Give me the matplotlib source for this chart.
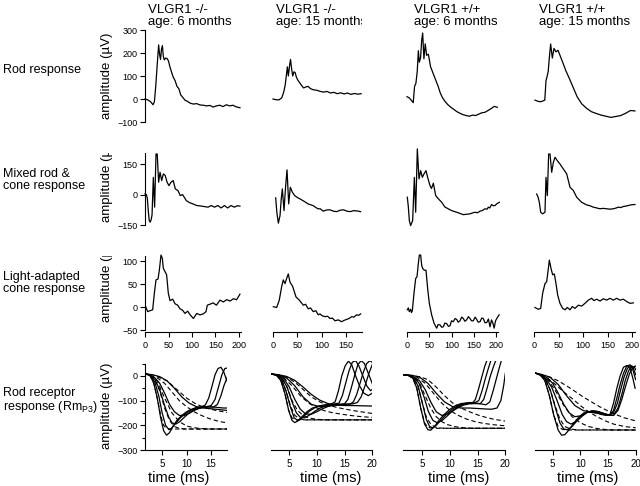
import matplotlib
matplotlib.use("Agg")
import matplotlib.pyplot as plt
from matplotlib.transforms import Bbox, TransformedBbox

plt.rcParams["font.family"] = ["Liberation Sans", "DejaVu Sans"]
plt.rcParams["mathtext.fontset"] = "custom"
plt.rcParams["mathtext.rm"] = "Liberation Sans"
plt.rcParams["axes.linewidth"] = 0.8

# =============================================================================
# DATA  -- x in ms, y in microvolts
# =============================================================================
col_titles = ["VLGR1 -/-\nage: 6 months", "VLGR1 -/-\nage: 15 months",
              "VLGR1 +/+\nage: 6 months", "VLGR1 +/+\nage: 15 months"]
row_labels = ["Rod response", "Mixed rod &\ncone response",
              "Light-adapted\ncone response", "Rod receptor\nresponse (Rm$_{\\mathrm{P3}}$)"]

# --- Row 1: rod response ---
rod_ko6_x = [0, 6, 12, 17, 20, 23, 26, 29, 31, 33, 35, 37, 39, 41, 44, 47, 50, 53, 56, 60, 64, 68, 72, 76,
             80, 85, 90, 96, 103, 110, 117, 124, 131, 138, 145, 152, 159, 166, 173, 180, 187, 194, 202]
rod_ko6_y = [0, -4, -12, -25, -12, 60, 150, 235, 195, 172, 215, 232, 185, 170, 178, 176, 165, 140, 120, 95,
             80, 55, 45, 18, 8, -5, -10, -18, -22, -20, -26, -27, -30, -28, -35, -30, -27, -33, -25, -30,
             -27, -34, -38]
rod_ko15_x = [0, 6, 12, 18, 22, 25, 27, 29.5, 31.5, 34, 36, 38, 40.5, 43, 45.5, 48, 51, 55, 59, 63, 67, 72,
              77, 83, 90, 97, 104, 111, 118, 125, 132, 139, 146, 153, 160, 167, 174, 181]
rod_ko15_y = [0, -3, -4, 5, 30, 60, 95, 140, 100, 145, 172, 135, 100, 118, 115, 95, 82, 70, 58, 48, 52, 55,
              45, 40, 38, 33, 30, 33, 26, 29, 23, 27, 22, 26, 20, 24, 21, 23]
rod_wt6_x = [0, 5, 9, 14, 17, 20, 23, 25.5, 27.7, 30.5, 33, 35.2, 38, 41, 44, 48, 53, 59, 65, 70, 75, 80,
             86, 92, 98, 105, 112, 119, 126, 133, 140, 147, 154, 161, 168, 175, 182, 189, 196, 203]
rod_wt6_y = [10, 5, -4, -16, 55, 68, 120, 210, 160, 180, 255, 287, 175, 240, 190, 195, 140, 110, 80, 55, 25,
             5, -12, -25, -35, -45, -55, -62, -68, -72, -75, -70, -72, -66, -60, -58, -50, -42, -32, -36]
rod_wt15_x = [2, 8, 14, 22, 24.5, 26.5, 29, 31.3, 34, 37.4, 40.8, 44.9, 49, 53, 58.5, 64.6, 72, 80, 88, 97,
              107, 117, 127, 137, 147, 157, 167, 177, 187, 197, 206]
rod_wt15_y = [-5, -10, -12, -5, 80, 96, 120, 180, 239, 178, 220, 205, 212, 190, 160, 125, 90, 50, 10, -20,
              -40, -55, -63, -70, -75, -80, -76, -72, -62, -50, -52]

# --- Row 2: mixed rod & cone response ---
mix_ko6_x = [0, 3, 5, 7, 9, 11, 13, 15, 17.7, 20.5, 23.4, 26, 29, 32, 35.5, 39, 43, 47, 51, 55, 60, 64.5,
             70, 75, 80, 88, 95, 102, 110, 118, 126, 134, 141, 148, 155, 162, 169, 176, 183, 190, 197, 202]
mix_ko6_y = [3, 0, -20, -80, -128, -136, -125, -100, 85, -62, 200, 200, 61, 110, 69, 102, 94, 61, 44, 60,
             69, 28, 20, -5, 0, -30, -40, -46, -54, -56, -59, -62, -54, -62, -54, -66, -54, -66, -54, -62,
             -55, -57]
mix_ko15_x = [5.5, 8, 11, 14.4, 17, 19.2, 22.6, 26, 28.8, 32.2, 35.6, 39.7, 44.5, 51, 56, 61.6, 67, 72, 77,
              82, 87, 92, 97, 103, 110, 117, 124, 131, 138, 145, 152, 159, 166, 173, 180]
mix_ko15_y = [-16, -90, -141, -104, -20, 28, -79, 44, 122, -46, 36, 12, -5, -16, -22, -30, -38, -46, -50,
              -54, -62, -70, -70, -82, -76, -75, -82, -84, -77, -75, -82, -84, -79, -81, -84]
mix_wt6_x = [0.7, 3, 5.2, 8.2, 12.7, 16.5, 19.5, 23.2, 27, 30.7, 34.5, 38.2, 42.7, 46.4, 51.7, 55, 59.2,
             64.5, 70.5, 78, 85.4, 91, 96.6, 104, 111.6, 119, 126.6, 134, 141.6, 148, 152.8, 158, 164, 170,
             175, 180, 182.8, 186, 190, 194, 197.8, 202, 207.5]
mix_wt6_y = [-13, -60, -128, -153, -128, 85, -87, 225, 77, 118, 85, 102, 118, 85, 44, 30, 56, -5, -21,
             -38, -62, -68, -75, -82, -87, -93, -99, -97, -95, -90, -87, -90, -82, -78, -70, -72, -62, -66,
             -49, -55, -54, -45, -38]
mix_wt15_x = [5.4, 8, 10.9, 13.6, 17.7, 22.4, 24.5, 27.2, 29.9, 32.7, 36.1, 39.5, 42.9, 47.6, 53, 59.9,
              66.7, 70, 73.5, 80.3, 87.1, 92, 97.3, 107.5, 114, 121, 128, 134.7, 141, 148.3, 155, 161.9,
              168, 172, 177, 182.3, 187, 192.5, 199, 206]
mix_wt15_y = [3, -10, -38, -87, -95, -87, 85, -5, 200, 200, 110, 159, 184, 167, 151, 126, 102, 70, 36, 20,
              -13, -25, -38, -51, -55, -62, -66, -70, -68, -70, -72, -70, -66, -62, -64, -59, -57, -54,
              -50, -49]

# --- Row 3: light-adapted cone response ---
cone_ko6_x = [1.4, 5.7, 10.6, 16.3, 19.9, 23.4, 27.7, 30.5, 34, 36.9, 39, 42.6, 46, 49.6, 53.2, 58.9, 64,
              69.5, 74.5, 80, 85, 90.8, 96, 103, 110, 117, 124, 129.8, 132.6, 138, 145, 152, 159.6, 166.7,
              173.8, 181, 188, 195, 202]
cone_ko6_y = [0.7, -10, -8, -6, 30, 59, 61, 80, 113, 106, 84, 77, 70, 30, 14, 17, 7, 4, -4, -7, -14, -9,
              -17, -25, -14, -17, -15, -10, 4, 6, 9, 4, 15, 11, 16, 13, 18, 16, 28]
cone_ko15_x = [0.7, 7.5, 12.9, 17.7, 21.1, 24.6, 28, 31.4, 34.9, 40.3, 47.2, 54, 62.2, 67, 72.4, 77, 82.6,
               88, 92.9, 96.5, 101, 106.8, 112, 117, 122, 127.3, 134, 141, 146, 151.3, 156, 161.6, 166,
               171.9, 176, 180]
cone_ko15_y = [0.7, -1, 15, 44, 59, 51, 62, 72, 54, 45, 22, 15, 4, 6, -4, -2, -10, -8, -17, -15, -19, -21,
               -20, -25, -24, -30, -28, -32, -29, -27, -25, -21, -22, -17, -18, -15]
cone_wt6_x = [0.7, 3, 5.2, 8.2, 10, 12, 15.7, 19.5, 22.5, 25.5, 27.7, 30.7, 33, 35.2, 39, 42.7, 46.4, 50.2,
              55.4, 60.7, 66.7, 70, 74.2, 78, 81.6, 85, 89.1, 93, 96.6, 100, 104, 108, 111.6, 115, 119, 123,
              126.6, 130, 134, 138, 141.6, 145, 149, 153, 156.6, 160, 164, 168, 171.5, 175, 179, 183,
              186.5, 190, 193, 195.8, 199, 201.7, 207]
cone_wt6_y = [-6, -2, -10, -5, -12, -8, 30, 62, 66, 95, 113, 113, 91, 84, 80, 80, 40, 8, -17, -35, -46, -38,
              -39, -44, -43, -35, -36, -42, -41, -30, -32, -25, -27, -33, -30, -22, -25, -31, -28, -21, -25,
              -30, -30, -22, -27, -33, -32, -24, -25, -34, -34, -26, -43, -28, -35, -46, -30, -25, -17]
cone_wt15_x = [2, 8.8, 13.6, 17.7, 22.4, 25.9, 29.3, 31.3, 34.7, 38.1, 41.5, 44.9, 48.3, 53, 58.5, 63.3,
               68, 73.5, 78.2, 83.7, 90.5, 97.3, 104, 110.9, 117.7, 122.4, 127.9, 134.7, 141.5, 148.3,
               155.1, 161.9, 168.7, 175.5, 182.3, 189.1, 195.9, 202.7]
cone_wt15_y = [-1, -5, -3, 30, 51, 55, 84, 102, 84, 70, 72, 51, 26, 8, -3, -6, -1, -6, 1, -3, 4, 2, 8, 15,
               19, 14, 17, 13, 18, 15, 19, 15, 19, 15, 17, 12, 8, 9]

# --- Row 4: rod receptor response (RmP3), recorded (solid) and model fits (dashed) ---
p3_ko6_solid = [
    ([1.5, 2.5, 3.3, 4.0, 4.7, 5.3, 5.9, 6.5, 7.2, 8.0, 9.0, 10.0, 11.0, 12.0, 13.0, 13.8, 14.5, 15.2, 15.8,
      16.4, 17.0, 17.6, 18.2],
     [12, 3, -30, -90, -170, -222, -240, -230, -205, -180, -160, -145, -135, -128, -125, -118, -90, -40, 5,
      30, 35, 15, -20]),
    ([1.5, 2.5, 3.5, 4.3, 5.0, 5.7, 6.4, 7.0, 7.8, 8.8, 10, 11, 12, 13, 14, 15, 15.8, 16.5, 17.2, 17.8, 18.3],
     [10, 2, -25, -80, -150, -200, -218, -210, -190, -168, -150, -138, -130, -126, -125, -120, -95, -45, 5,
      30, 32]),
    ([1.5, 2.5, 3.5, 4.5, 5.5, 6.3, 7.0, 7.8, 8.6, 9.5, 10.5, 11.5, 12.5, 13.5, 14.5, 15.5, 16.3, 17.0,
      17.6, 18.3],
     [10, 3, -15, -55, -120, -165, -190, -195, -185, -168, -150, -138, -130, -126, -125, -126, -115, -80,
      -40, -5]),
    ([1.5, 2.5, 3.5, 4.5, 5.5, 6.5, 7.5, 8.5, 9.5, 10.5, 11.5, 12.5, 13.5, 14.5, 15.5, 16.5, 17.5, 18.3],
     [8, 2, -8, -30, -70, -115, -145, -160, -160, -152, -140, -132, -128, -126, -126, -128, -130, -130]),
    ([1.5, 3, 4.5, 6, 7.5, 9, 10.5, 12, 13.5, 15, 16.5, 18.3],
     [8, 5, -3, -20, -50, -85, -110, -125, -130, -133, -136, -140]),
]
p3_ko6_dashed = [
    ([2.5, 3.3, 4, 4.7, 5.3, 5.9, 6.5, 7.2, 8, 10, 13, 16, 18.3],
     [3, -30, -90, -160, -200, -212, -215, -215, -215, -215, -215, -215, -215]),
    ([2.5, 3.5, 4.5, 5.5, 6.5, 7.5, 8.5, 9.5, 11, 13, 15, 18.3],
     [2, -15, -60, -130, -180, -205, -212, -215, -215, -215, -215, -215]),
    ([2.5, 4, 5.5, 7, 8.5, 10, 11.5, 13, 14.5, 16, 18.3],
     [2, -20, -90, -150, -185, -203, -210, -213, -215, -215, -215]),
    ([2.5, 4, 5.5, 7, 8.5, 10, 11.5, 13, 14.5, 16, 17.3, 18.3],
     [2, -8, -30, -65, -100, -125, -145, -160, -172, -181, -187, -190]),
    ([2.5, 4, 6, 8, 10, 12, 14, 16, 18.3],
     [2, -3, -20, -55, -90, -115, -130, -140, -148]),
]
p3_ko15_solid = [
    ([1.7, 2.7, 3.5, 4.2, 4.9, 5.5, 6.0, 6.6, 7.3, 8.2, 9.2, 10.3, 11.5, 12.5, 13.3, 13.9, 14.5, 15.1, 15.7,
      16.3, 17.0, 17.7, 18.5, 19.3, 20],
     [8, 3, -20, -70, -140, -180, -189, -182, -165, -145, -130, -122, -118, -115, -105, -60, 0, 40, 60, 45,
      0, -40, -70, -80, -70]),
    ([1.7, 2.7, 3.6, 4.4, 5.2, 5.9, 6.5, 7.1, 7.8, 8.7, 9.7, 10.8, 12, 13, 14, 14.6, 15.2, 15.8, 16.4, 17,
      17.6, 18.3, 19, 19.7, 20],
     [8, 3, -15, -60, -125, -170, -180, -175, -160, -142, -128, -120, -116, -114, -110, -80, -30, 20, 55,
      62, 40, 0, -40, -60, -55]),
    ([1.7, 2.7, 3.7, 4.6, 5.5, 6.3, 7.0, 7.8, 8.7, 9.7, 10.8, 12, 13, 14, 15, 15.6, 16.2, 16.8, 17.4, 18,
      18.6, 19.3, 20],
     [8, 3, -10, -45, -105, -150, -168, -170, -158, -142, -128, -120, -117, -115, -113, -95, -50, 0, 45,
      62, 50, 10, -30]),
    ([1.7, 3, 4, 5, 6, 7, 8, 9, 10, 11, 12, 13, 14, 15, 16, 16.6, 17.2, 17.8, 18.4, 19, 19.6, 20],
     [8, 3, -10, -45, -95, -135, -155, -155, -145, -133, -124, -118, -116, -115, -114, -105, -75, -30, 15,
      50, 62, 55]),
    ([1.7, 3, 4.5, 6, 7.5, 9, 10.5, 12, 13.5, 15, 16.5, 17.3, 18, 18.7, 19.4, 20],
     [8, 4, -8, -40, -85, -115, -125, -122, -118, -115, -113, -108, -85, -40, 10, 45]),
    ([1.7, 3, 4.5, 6, 7.5, 9, 10.5, 12, 13.5, 15, 16.5, 18, 20],
     [8, 5, -2, -18, -45, -75, -98, -112, -118, -120, -120, -121, -122]),
]
p3_ko15_dashed = [
    ([2.7, 3.5, 4.2, 4.9, 5.5, 6.1, 7, 8, 10, 12, 14, 16, 18, 20],
     [3, -20, -70, -140, -170, -178, -178, -178, -178, -178, -178, -178, -178, -178]),
    ([2.7, 3.6, 4.4, 5.2, 6, 7, 8, 9, 11, 13, 16, 20],
     [3, -15, -60, -120, -160, -175, -178, -178, -178, -178, -178, -178]),
    ([2.7, 3.7, 4.6, 5.5, 6.5, 7.5, 8.5, 10, 12, 14, 17, 20],
     [3, -10, -45, -100, -140, -160, -170, -176, -178, -178, -178, -178]),
    ([2.7, 4, 5.5, 7, 8.5, 10, 11.5, 13, 14.5, 16, 18, 20],
     [3, -8, -40, -80, -110, -130, -142, -150, -155, -160, -165, -168]),
    ([2.7, 4.5, 6, 7.5, 9, 10.5, 12, 13.5, 15, 17, 20],
     [3, -5, -25, -55, -85, -105, -118, -127, -134, -142, -152]),
]
p3_wt6_solid = [
    ([1.5, 2.5, 3.3, 4.0, 4.7, 5.4, 6.0, 6.5, 7.2, 8, 9, 10, 11, 12, 13, 14, 14.6, 15.2, 15.8, 16.3, 16.8],
     [5, 2, -10, -50, -130, -195, -218, -220, -205, -180, -155, -135, -120, -112, -110, -112, -95, -50, 0,
      40, 70]),
    ([1.5, 2.5, 3.4, 4.2, 5, 5.7, 6.3, 6.9, 7.6, 8.5, 9.5, 10.5, 11.5, 12.5, 13.5, 14.5, 15.2, 15.8, 16.4,
      17, 17.5],
     [5, 2, -8, -40, -110, -175, -205, -210, -198, -175, -152, -133, -120, -112, -108, -108, -100, -60,
      -10, 35, 70]),
    ([1.5, 2.5, 3.5, 4.4, 5.3, 6.1, 6.9, 7.7, 8.6, 9.6, 10.6, 11.6, 12.6, 13.6, 14.6, 15.5, 16.1, 16.7,
      17.3, 17.9, 18.4],
     [5, 2, -6, -30, -85, -145, -180, -190, -180, -160, -138, -122, -114, -110, -110, -112, -95, -50, 0,
      40, 70]),
    ([1.5, 2.5, 3.5, 4.5, 5.5, 6.5, 7.5, 8.5, 9.5, 10.5, 11.5, 12.5, 13.5, 14.5, 15.5, 16.5, 17.2, 17.8,
      18.4, 19, 19.4],
     [5, 2, -5, -20, -55, -105, -145, -160, -155, -142, -128, -118, -113, -112, -113, -117, -105, -60, -10,
      40, 70]),
    ([1.5, 3, 4.5, 6, 7.5, 9, 10.5, 12, 13.5, 15, 16.5, 17.5, 18.5, 19.2, 19.7, 20],
     [5, 3, -5, -30, -70, -105, -125, -130, -130, -132, -134, -135, -130, -100, -40, 10]),
]
p3_wt6_dashed = [
    ([2.5, 3.3, 4, 4.7, 5.4, 6, 6.7, 7.5, 9, 11, 14, 17, 20],
     [2, -10, -50, -130, -190, -208, -212, -212, -212, -212, -212, -212, -212]),
    ([2.5, 3.4, 4.2, 5, 5.7, 6.5, 7.3, 8.2, 9.5, 11, 14, 17, 20],
     [2, -8, -40, -110, -165, -195, -207, -211, -212, -212, -212, -212, -212]),
    ([2.5, 3.5, 4.5, 5.5, 6.5, 7.5, 8.5, 9.5, 11, 12.5, 14, 16, 18, 20],
     [2, -5, -30, -80, -130, -165, -185, -197, -206, -210, -212, -212, -212, -212]),
    ([2.5, 4, 5.5, 7, 8.5, 10, 11.5, 13, 14.5, 16, 18, 20],
     [2, -5, -30, -70, -110, -140, -160, -175, -185, -192, -198, -202]),
    ([2.5, 4.5, 6, 7.5, 9, 10.5, 12, 13.5, 15, 16.5, 18, 20],
     [2, -3, -15, -45, -80, -110, -130, -145, -158, -168, -176, -183]),
]
p3_wt15_solid = [
    ([1.8, 2.8, 3.6, 4.4, 5.2, 6.0, 6.6, 7.2, 7.9, 8.7, 9.6, 10.6, 11.6, 12.6, 13.6, 14.6, 15.4, 16, 16.6,
      17.2, 17.8, 18.4, 19, 19.5, 19.9],
     [12, 3, -20, -80, -160, -220, -240, -238, -220, -195, -170, -150, -145, -148, -155, -160, -155, -110,
      -50, 0, 35, 42, 30, -10, -50]),
    ([1.8, 2.8, 3.7, 4.6, 5.5, 6.3, 7, 7.7, 8.5, 9.4, 10.4, 11.4, 12.4, 13.4, 14.4, 15.3, 16, 16.6, 17.2,
      17.8, 18.4, 19, 19.5, 20],
     [12, 3, -15, -60, -130, -190, -215, -218, -205, -182, -160, -145, -143, -147, -155, -160, -140, -90,
      -35, 10, 40, 45, 25, -15]),
    ([1.8, 2.8, 3.8, 4.8, 5.8, 6.7, 7.5, 8.3, 9.2, 10.2, 11.2, 12.2, 13.2, 14.2, 15.2, 16, 16.7, 17.3,
      17.9, 18.5, 19.1, 19.6, 20],
     [12, 3, -12, -45, -100, -155, -185, -195, -185, -165, -148, -142, -145, -152, -158, -150, -110, -55,
      -5, 30, 42, 30, 5]),
    ([1.8, 3, 4, 5, 6, 7, 8, 9, 10, 11, 12, 13, 14, 15, 16, 16.8, 17.5, 18.1, 18.7, 19.3, 19.8, 20],
     [12, 4, -8, -30, -70, -115, -150, -165, -162, -150, -142, -143, -150, -158, -160, -130, -75, -20, 20,
      40, 35, 25]),
    ([1.8, 3, 4.5, 6, 7.5, 9, 10.5, 12, 13.5, 15, 16, 16.8, 17.5, 18.2, 18.9, 19.5, 20],
     [12, 6, -5, -35, -80, -120, -140, -148, -152, -158, -160, -140, -95, -40, 10, 35, 40]),
]
p3_wt15_dashed = [
    ([2.8, 3.6, 4.4, 5.2, 6, 6.8, 7.6, 9, 11, 14, 17, 20],
     [3, -20, -80, -160, -205, -217, -219, -219, -219, -219, -219, -219]),
    ([2.8, 3.7, 4.6, 5.5, 6.3, 7.2, 8.2, 9.5, 11, 13, 16, 20],
     [3, -15, -60, -125, -175, -205, -215, -219, -219, -219, -219, -219]),
    ([2.8, 4, 5.5, 7, 8.5, 10, 11.5, 13, 14.5, 16, 18, 20],
     [3, -10, -60, -120, -165, -190, -205, -213, -217, -219, -219, -219]),
    ([2.8, 4, 5.5, 7, 8.7, 10, 11.5, 13, 14.5, 16, 18, 20],
     [3, -8, -35, -65, -95, -120, -145, -165, -182, -195, -205, -210]),
    ([2.8, 4.5, 6, 7.5, 9, 10.5, 12, 13.5, 15, 16.5, 18, 20],
     [3, -5, -20, -40, -62, -85, -105, -125, -142, -157, -170, -182]),
]

erg_rows = [
    [(rod_ko6_x, rod_ko6_y), (rod_ko15_x, rod_ko15_y), (rod_wt6_x, rod_wt6_y), (rod_wt15_x, rod_wt15_y)],
    [(mix_ko6_x, mix_ko6_y), (mix_ko15_x, mix_ko15_y), (mix_wt6_x, mix_wt6_y), (mix_wt15_x, mix_wt15_y)],
    [(cone_ko6_x, cone_ko6_y), (cone_ko15_x, cone_ko15_y), (cone_wt6_x, cone_wt6_y),
     (cone_wt15_x, cone_wt15_y)],
]
p3_panels = [(p3_ko6_solid, p3_ko6_dashed), (p3_ko15_solid, p3_ko15_dashed),
             (p3_wt6_solid, p3_wt6_dashed), (p3_wt15_solid, p3_wt15_dashed)]

# =============================================================================
# LAYOUT (pixels, measured from the top-left of a 640 x 486 image)
# =============================================================================
W, H = 640, 486
erg_left = [145, 273, 407, 534]
erg_xmax = [205, 182, 205, 207]
erg_xscale = [0.47, 0.487, 0.445, 0.49]        # px per ms
row_top = [30, 153, 256]
row_bot = [122, 225, 330]
row_ylim = [(-100, 300), (-150, 205), (-50, 111)]
row_yticks = [[-100, 0, 100, 200, 300], [-150, 0, 150], [-50, 0, 50, 100]]

p3_left = [145, 271, 403, 535]
p3_xlim = [(1.5, 18.3), (1.7, 20), (1.5, 20), (1.8, 20)]
p3_xscale = [4.9, 5.53, 5.53, 5.53]
p3_bot = 450
p3_yscale = 0.247                              # px per microvolt
time_label_x = [179, 331, 459, 588]

LW = 0.9
fig = plt.figure(figsize=(W / 100, H / 100), dpi=100)


def px_axes(left, top, width, height):
    return fig.add_axes([left / W, 1 - (top + height) / H, width / W, height / H])


def strip(ax):
    for s in ax.spines.values():
        s.set_visible(False)
    ax.set_xticks([])
    ax.set_yticks([])
    ax.patch.set_visible(False)


# ---- rows 1-3: ERG traces ----
for r in range(3):
    for c in range(4):
        width = erg_xmax[c] * erg_xscale[c]
        ax = px_axes(erg_left[c], row_top[r], width, row_bot[r] - row_top[r])
        strip(ax)
        x, y = erg_rows[r][c]
        ax.plot(x, y, color="black", lw=LW, clip_on=False)
        ax.set_xlim(0, erg_xmax[c])
        ax.set_ylim(*row_ylim[r])
        if c == 0:
            ax.spines["left"].set_visible(True)
            ax.set_yticks(row_yticks[r])
            ax.tick_params(axis="y", direction="out", length=3.5, width=0.8, labelsize=6.5, pad=2)
        if r == 2:
            ax.spines["bottom"].set_visible(True)
            ax.spines["bottom"].set_position(("outward", 1.5))
            ax.set_xticks([t for t in [0, 50, 100, 150, 200] if t <= erg_xmax[c]])
            ax.tick_params(axis="x", direction="out", length=3.5, width=0.8, labelsize=6.5, pad=3)

# ---- row 4: RmP3 a-wave families ----
for c in range(4):
    lo, hi = p3_xlim[c]
    ytop = 50 if c == 0 else 62
    height = (ytop + 300) * p3_yscale
    ax = px_axes(p3_left[c], p3_bot - height, (hi - lo) * p3_xscale[c], height)
    strip(ax)
    solid, dashed = p3_panels[c]
    for x, y in dashed:
        ax.plot(x, y, color="black", lw=0.8, ls=(0, (4, 2.5)))
    for x, y in solid:
        ax.plot(x, y, color="black", lw=LW)
    ax.set_xlim(lo, hi)
    ax.set_ylim(-300, ytop)
    ax.spines["bottom"].set_visible(True)
    ax.set_xticks([t for t in [5, 10, 15, 20] if t <= hi])
    ax.tick_params(axis="x", direction="out", length=3.5, width=0.8, labelsize=7, pad=3)
    if c == 0:
        ax.spines["left"].set_visible(True)
        ax.set_yticks([-300, -200, -100, 0])
        ax.set_yticks([-250, -150, -50, 50], minor=True)
        ax.tick_params(axis="y", which="major", direction="out", length=3.5, width=0.8,
                       labelsize=6.5, pad=2)
        ax.tick_params(axis="y", which="minor", direction="out", length=2, width=0.8)
    fig.text(time_label_x[c] / W, 1 - 478 / H, "time (ms)", ha="center", va="center", fontsize=10.5)

# ---- column titles ----
title_left = [148, 276, 414, 539]
for c, t in enumerate(col_titles):
    txt = fig.text(title_left[c] / W, 1 - 4 / H, t, ha="left", va="top", fontsize=9.5, linespacing=1.05)
    if c == 1:
        txt.set_clip_box(TransformedBbox(Bbox.from_extents(0, 0, 362 / W, 1), fig.transFigure))
        txt.set_clip_on(True)

# ---- row labels ----
row_label_y = [70, 180, 283, 401]
for r, t in enumerate(row_labels):
    fig.text(3 / W, 1 - row_label_y[r] / H, t, ha="left", va="center", fontsize=9, linespacing=1.05)

# ---- y-axis labels (the middle two are cut off at the top of their panel) ----
ylab_bottom = [119, 222, 322, 449]
ylab_clip_top = [None, 153, 256, None]
for r in range(4):
    txt = fig.text(107 / W, 1 - ylab_bottom[r] / H, "amplitude (µV)", rotation=90,
                   ha="center", va="bottom", fontsize=9.5)
    if ylab_clip_top[r] is not None:
        txt.set_clip_box(TransformedBbox(Bbox.from_extents(0, 0, 1, 1 - ylab_clip_top[r] / H),
                                         fig.transFigure))
        txt.set_clip_on(True)

fig.savefig("out.png", dpi=100)
